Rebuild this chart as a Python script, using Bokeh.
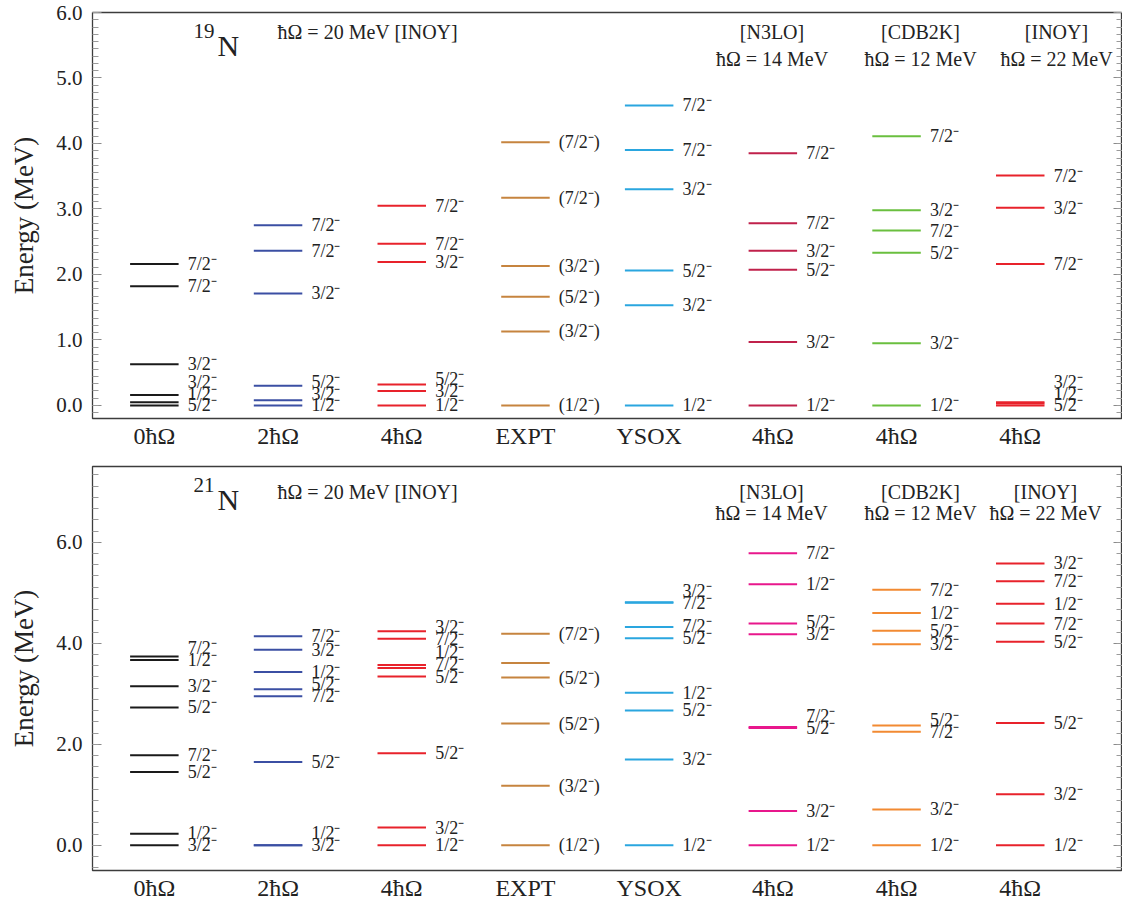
from bokeh.plotting import figure
from bokeh.models import (ColumnDataSource, FixedTicker, SingleIntervalTicker, LinearAxis,
                          Range1d, Label, PrintfTickFormatter)
from bokeh.layouts import column
from bokeh.embed import file_html
from bokeh.resources import INLINE
from bokeh.core.properties import value

FONT = "Liberation Serif"

column_names = ["0ħΩ", "2ħΩ", "4ħΩ", "EXPT", "YSOX", "4ħΩ", "4ħΩ", "4ħΩ"]

# ---------------- 19N (energies in MeV, ascending) ----------------
n19_0hw_E = [0.00, 0.05, 0.16, 0.63, 1.82, 2.16]
n19_0hw_J = ["5/2⁻", "1/2⁻", "3/2⁻", "3/2⁻", "7/2⁻", "7/2⁻"]
n19_2hw_E = [0.00, 0.08, 0.30, 1.71, 2.36, 2.75]
n19_2hw_J = ["1/2⁻", "3/2⁻", "5/2⁻", "3/2⁻", "7/2⁻", "7/2⁻"]
n19_4hw_E = [0.00, 0.22, 0.32, 2.19, 2.47, 3.05]
n19_4hw_J = ["1/2⁻", "3/2⁻", "5/2⁻", "3/2⁻", "7/2⁻", "7/2⁻"]
n19_expt_E = [0.00, 1.13, 1.66, 2.13, 3.17, 4.02]
n19_expt_J = ["(1/2⁻)", "(3/2⁻)", "(5/2⁻)", "(3/2⁻)", "(7/2⁻)", "(7/2⁻)"]
n19_ysox_E = [0.00, 1.53, 2.06, 3.30, 3.90, 4.58]
n19_ysox_J = ["1/2⁻", "3/2⁻", "5/2⁻", "3/2⁻", "7/2⁻", "7/2⁻"]
n19_n3lo_E = [0.00, 0.97, 2.07, 2.36, 2.78, 3.85]
n19_n3lo_J = ["1/2⁻", "3/2⁻", "5/2⁻", "3/2⁻", "7/2⁻", "7/2⁻"]
n19_cdb2k_E = [0.00, 0.95, 2.33, 2.67, 2.98, 4.11]
n19_cdb2k_J = ["1/2⁻", "3/2⁻", "5/2⁻", "7/2⁻", "3/2⁻", "7/2⁻"]
n19_inoy_E = [0.00, 0.03, 0.05, 2.16, 3.02, 3.51]
n19_inoy_J = ["5/2⁻", "1/2⁻", "3/2⁻", "7/2⁻", "3/2⁻", "7/2⁻"]

n19_colors = ["#1a1a1a", "#3b4fa3", "#e8222b", "#c6843f",
              "#2aa6df", "#c0214b", "#6abf3f", "#e8222b"]

# ---------------- 21N ----------------
n21_0hw_E = [0.00, 0.23, 1.45, 1.78, 2.73, 3.15, 3.67, 3.74]
n21_0hw_J = ["3/2⁻", "1/2⁻", "5/2⁻", "7/2⁻", "5/2⁻", "3/2⁻", "1/2⁻", "7/2⁻"]
n21_2hw_E = [0.00, 0.00, 1.65, 2.95, 3.09, 3.43, 3.87, 4.14]
n21_2hw_J = ["3/2⁻", "1/2⁻", "5/2⁻", "7/2⁻", "5/2⁻", "1/2⁻", "3/2⁻", "7/2⁻"]
n21_4hw_E = [0.00, 0.35, 1.82, 3.34, 3.51, 3.57, 4.09, 4.24]
n21_4hw_J = ["1/2⁻", "3/2⁻", "5/2⁻", "5/2⁻", "7/2⁻", "1/2⁻", "7/2⁻", "3/2⁻"]
n21_expt_E = [0.00, 1.18, 2.41, 3.32, 3.61, 4.19]
n21_expt_J = ["(1/2⁻)", "(3/2⁻)", "(5/2⁻)", "(5/2⁻)", "", "(7/2⁻)"]
n21_ysox_E = [0.00, 1.70, 2.67, 3.02, 4.10, 4.32, 4.80, 4.81]
n21_ysox_J = ["1/2⁻", "3/2⁻", "5/2⁻", "1/2⁻", "5/2⁻", "7/2⁻", "7/2⁻", "3/2⁻"]
n21_n3lo_E = [0.00, 0.68, 2.32, 2.34, 4.18, 4.39, 5.17, 5.78]
n21_n3lo_J = ["1/2⁻", "3/2⁻", "5/2⁻", "7/2⁻", "3/2⁻", "5/2⁻", "1/2⁻", "7/2⁻"]
n21_cdb2k_E = [0.00, 0.71, 2.25, 2.37, 3.98, 4.25, 4.60, 5.06]
n21_cdb2k_J = ["1/2⁻", "3/2⁻", "7/2⁻", "5/2⁻", "3/2⁻", "5/2⁻", "1/2⁻", "7/2⁻"]
n21_inoy_E = [0.00, 1.01, 2.42, 4.03, 4.39, 4.78, 5.23, 5.58]
n21_inoy_J = ["1/2⁻", "3/2⁻", "5/2⁻", "5/2⁻", "7/2⁻", "1/2⁻", "7/2⁻", "3/2⁻"]

n21_colors = ["#1a1a1a", "#3b4fa3", "#e8222b", "#c6843f",
              "#2aa6df", "#e8178c", "#f28a32", "#e8222b"]

n19_E = [n19_0hw_E, n19_2hw_E, n19_4hw_E, n19_expt_E, n19_ysox_E, n19_n3lo_E, n19_cdb2k_E, n19_inoy_E]
n19_J = [n19_0hw_J, n19_2hw_J, n19_4hw_J, n19_expt_J, n19_ysox_J, n19_n3lo_J, n19_cdb2k_J, n19_inoy_J]
n21_E = [n21_0hw_E, n21_2hw_E, n21_4hw_E, n21_expt_E, n21_ysox_E, n21_n3lo_E, n21_cdb2k_E, n21_inoy_E]
n21_J = [n21_0hw_J, n21_2hw_J, n21_4hw_J, n21_expt_J, n21_ysox_J, n21_n3lo_J, n21_cdb2k_J, n21_inoy_J]

# ---------------- layout constants ----------------
FRAME_L = 92
FRAME_W = 1030
X0 = 0.5
PX_PER_COL = 123.7
X1 = X0 + FRAME_W / PX_PER_COL
HALF = 0.196     # half length of a level line (column units)
LBL_DX = 0.27    # label offset from column centre


def label_positions(E, J, d):
    idx = sorted(range(len(E)), key=lambda i: (E[i], i))
    out = list(E)
    last = -1e9
    for i in idx:
        if J[i] == "":
            continue
        y = max(E[i], last + d)
        out[i] = y
        last = y
    return out


def px_x(page_x):
    return X0 + (page_x - FRAME_L) / PX_PER_COL


def make_panel(E_cols, J_cols, colors, yr, tick_step, d, frame_h,
               border_top, border_bottom, mass, ann):
    y0, y1 = yr
    p = figure(frame_width=FRAME_W, frame_height=frame_h,
               x_range=Range1d(X0, X1), y_range=Range1d(y0, y1),
               output_backend="svg", toolbar_location=None,
               min_border_left=FRAME_L, min_border_right=0,
               min_border_top=border_top, min_border_bottom=border_bottom)
    p.xgrid.visible = False
    p.ygrid.visible = False
    p.outline_line_color = "#3c3c3c"
    p.outline_line_width = 1.3
    p.background_fill_color = "white"

    for k, (E, J, c) in enumerate(zip(E_cols, J_cols, colors)):
        xc = k + 1
        src = ColumnDataSource(dict(
            x0=[xc - HALF] * len(E), x1=[xc + HALF] * len(E), y=E))
        p.segment(x0="x0", y0="y", x1="x1", y1="y", source=src,
                  line_color=c, line_width=2.0)
        ly = label_positions(E, J, d)
        keep = [i for i in range(len(J)) if J[i] != ""]
        lsrc = ColumnDataSource(dict(x=[xc + LBL_DX] * len(keep),
                                     y=[ly[i] for i in keep],
                                     t=[J[i] for i in keep]))
        p.text(x="x", y="y", text="t", source=lsrc,
               text_font=value(FONT), text_font_size="18px",
               text_color="#222222", text_baseline="middle", text_align="left")

    # axes
    ya = p.yaxis[0]
    ya.ticker = SingleIntervalTicker(interval=tick_step, num_minor_ticks=9)
    ya.formatter = PrintfTickFormatter(format="%.1f")
    ya.axis_label = "Energy (MeV)"
    ya.axis_label_text_font = FONT
    ya.axis_label_text_font_style = "normal"
    ya.axis_label_text_font_size = "27px"
    ya.axis_label_text_color = "#222222"
    ya.axis_label_standoff = 14
    ya.major_label_text_font = FONT
    ya.major_label_text_font_size = "21px"
    ya.major_label_text_color = "#222222"
    ya.major_label_standoff = 10
    ya.axis_line_color = None
    ya.major_tick_in = 9
    ya.major_tick_out = 0
    ya.minor_tick_in = 6
    ya.minor_tick_out = 0
    ya.major_tick_line_color = "#8a8a8a"
    ya.minor_tick_line_color = "#9a9a9a"

    ra = LinearAxis(ticker=SingleIntervalTicker(interval=tick_step, num_minor_ticks=9),
                    major_label_text_color=None, major_label_text_font_size="1px",
                    major_label_standoff=0,
                    axis_line_color=None, major_tick_in=9, major_tick_out=0,
                    minor_tick_in=6, minor_tick_out=0,
                    major_tick_line_color="#8a8a8a", minor_tick_line_color="#9a9a9a")
    p.add_layout(ra, "right")

    xa = p.xaxis[0]
    xa.ticker = FixedTicker(ticks=list(range(1, 9)))
    xa.major_label_overrides = {i + 1: n for i, n in enumerate(column_names)}
    xa.major_label_text_font = FONT
    xa.major_label_text_font_size = "24px"
    xa.major_label_text_color = "#222222"
    xa.major_label_standoff = 4
    xa.axis_line_color = None
    xa.major_tick_in = 0
    xa.major_tick_out = 0
    xa.minor_tick_line_color = None

    # annotations (pixel offsets below frame top -> data units)
    def py(off):
        return y1 - off * (y1 - y0) / frame_h

    def lab(x, y, text, size, **kw):
        p.add_layout(Label(x=x, y=y, text=text, text_font=FONT,
                           text_font_size=size, text_color="#222222", **kw))

    lab(px_x(193), py(ann["sup_base"]), mass, "21px", text_baseline="alphabetic")
    lab(px_x(217), py(ann["n_base"]), "N", "30px", text_baseline="alphabetic")
    lab(px_x(277), py(ann["l1"]), "ħΩ = 20 MeV [INOY]", "20px", text_baseline="middle")
    for cx, t1, t2 in ann["cols"]:
        lab(px_x(cx), py(ann["l1"]), t1, "20px", text_baseline="middle", text_align="center")
        lab(px_x(cx), py(ann["l2"]), t2, "20px", text_baseline="middle", text_align="center")
    return p


ann_top = dict(sup_base=18, n_base=33, l1=19, l2=46,
               cols=[(771.5, "[N3LO]", "ħΩ = 14 MeV"),
                     (920, "[CDB2K]", "ħΩ = 12 MeV"),
                     (1056, "[INOY]", "ħΩ = 22 MeV")])
ann_bot = dict(sup_base=18, n_base=33, l1=25, l2=46,
               cols=[(771, "[N3LO]", "ħΩ = 14 MeV"),
                     (920, "[CDB2K]", "ħΩ = 12 MeV"),
                     (1045, "[INOY]", "ħΩ = 22 MeV")])

p1 = make_panel(n19_E, n19_J, n19_colors, (-0.2, 6.0), 1, 0.18, 406, 12, 34, "19", ann_top)
p2 = make_panel(n21_E, n21_J, n21_colors, (-0.5, 7.5), 2, 0.24, 404, 14, 34, "21", ann_bot)

layout = column(p1, p2, spacing=0)
open("out.html", "w").write(file_html(layout, INLINE))
